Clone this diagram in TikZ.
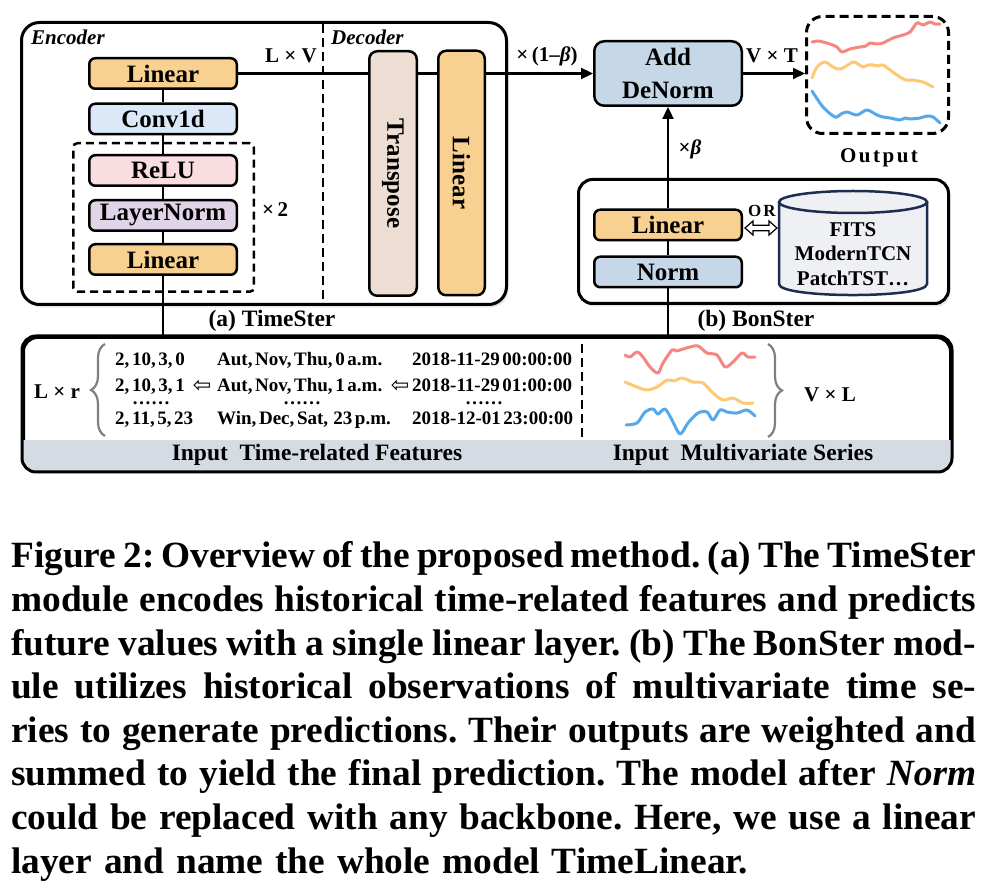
\documentclass[tikz,border=0pt]{standalone}
\usepackage{fontspec}
\setmainfont{Liberation Serif}
\newfontfamily\dvfont{DejaVu Sans}
\newfontfamily\spfont[LetterSpace=12]{Liberation Serif}
\newfontfamily\tabfont[WordSpace=0.55]{Liberation Serif}
\newfontfamily\capfont[FakeStretch=1.01]{Liberation Serif}
\frenchspacing
\usetikzlibrary{arrows.meta,decorations.pathreplacing,shadows}
\definecolor{cOrange}{HTML}{F8D08F}
\definecolor{cConv}{HTML}{DAE8F8}
\definecolor{cRelu}{HTML}{FADDE0}
\definecolor{cLN}{HTML}{E0D4E8}
\definecolor{cTrans}{HTML}{EEDDD3}
\definecolor{cAdd}{HTML}{C6D7E8}
\definecolor{cCylF}{HTML}{EEF0F4}
\definecolor{cCylD}{HTML}{1E2D4E}
\definecolor{cBand}{HTML}{D5DBE3}
\definecolor{cRed}{HTML}{F4877F}
\definecolor{cYel}{HTML}{FFC874}
\definecolor{cBlue}{HTML}{55A9EA}
\definecolor{cBrace}{HTML}{808080}
\begin{document}
\begin{tikzpicture}[x=1pt,y=-1pt,
  every node/.style={inner sep=0pt},
  blk/.style={draw, line width=2.5pt, rounded corners=6pt, minimum width=147.5pt, minimum height=30.5pt, font=\fontsize{25}{30}\selectfont\bfseries},
  bigframe/.style={draw, line width=3pt, fill=white, rounded corners=#1},
  softshadow/.style={drop shadow={shadow xshift=2pt,shadow yshift=-3pt,opacity=0.22,fill=black!45}},
  conn/.style={line width=2.3pt},
  arr/.style={conn, -{Triangle[length=12pt,width=11pt]}},
  lbl/.style={font=\fontsize{21}{24}\selectfont\bfseries},
  sublbl/.style={font=\fontsize{23.5}{26}\selectfont\bfseries},
  tab/.style={anchor=base west, font=\tabfont\fontsize{19}{20}\selectfont\bfseries},
  dots/.style={anchor=base, text height=3pt, text depth=0pt, font=\fontsize{19}{20}\selectfont\bfseries},
  series/.style={line width=3pt, line cap=round, line join=round},
  bracestyle/.style={cBrace, line width=2.2pt, decorate, decoration={brace, amplitude=14pt, aspect=0.5}},
  capl/.style={anchor=base west, font=\capfont\fontsize{37}{40}\selectfont\bfseries}]
\useasboundingbox (0,0) rectangle (989,890);

% ---------- frames ----------
\node[bigframe=18pt, softshadow, minimum width=485pt, minimum height=282pt] (ts) at (264,163.5) {};
\node[bigframe=14pt, softshadow, minimum width=370pt, minimum height=124pt] (bs) at (763.5,241.5) {};
\node[bigframe=14pt, softshadow, minimum width=927pt, minimum height=133pt] (inp) at (487,404) {};
\begin{scope}
  \clip[rounded corners=14pt] (inp.north west) rectangle (inp.south east);
  \fill[cBand] (15,440) rectangle (960,480);
\end{scope}
\draw[line width=3pt, rounded corners=14pt] (inp.north west) rectangle (inp.south east);

\node[draw, line width=3pt, dash pattern=on 9pt off 5pt, rounded corners=16pt, minimum width=142pt, minimum height=117pt] (out) at (877.5,75) {};

% encoder / decoder divider
\draw[line width=2.5pt, dash pattern=on 9pt off 5pt] (323,24) -- (323,305);

% labels in TimeSter
\node[anchor=base west, font=\fontsize{21}{24}\selectfont\bfseries\itshape] (enc) at (31,45) {Encoder};
\node[anchor=base west, font=\fontsize{21}{24}\selectfont\bfseries\itshape] (dec) at (331,45) {Decoder};
\node[lbl, anchor=base] (lv) at (291,63) {L × V};

% repeated block
\node[draw, line width=2.5pt, dash pattern=on 8pt off 5pt, rounded corners=4pt, minimum width=180.5pt, minimum height=148.5pt] (rep) at (163.5,217.5) {};
\node[lbl, anchor=base west] (x2) at (262,217) {×\,2};

% encoder blocks
\node[blk, fill=cOrange] (lin1) at (163,73.5) {Linear};
\node[blk, fill=cConv] (conv) at (163,119) {Conv1d};
\node[blk, fill=cRelu] (relu) at (163,170.5) {ReLU};
\node[blk, fill=cLN] (ln) at (163,215.5) {LayerNorm};
\node[blk, fill=cOrange] (lin2) at (163,259.5) {Linear};
\draw[conn] (lin1) -- (conv);
\draw[conn] (conv) -- (relu);
\draw[conn] (relu) -- (ln);
\draw[conn] (ln) -- (lin2);

% Add / DeNorm
\node[blk, fill=cAdd, minimum height=64.5pt, rounded corners=10pt, align=center, font=\fontsize{25}{33}\selectfont\bfseries] (add) at (668,73.5) {Add\\DeNorm};
\draw[arr] (lin1.east) -- (add.west);

% decoder blocks (on top of the connector)
\node[blk, fill=cTrans, rotate=-90, minimum width=244.5pt, minimum height=47.5pt, rounded corners=8pt] (tr) at (393,173.5) {Transpose};
\node[blk, fill=cOrange, rotate=-90, minimum width=244.5pt, minimum height=46.5pt, rounded corners=8pt] (dl) at (461.5,173) {Linear};

\node[lbl, anchor=base] (wb1) at (547,62) {×\,(1–{\itshape β})};
\node[lbl, anchor=base] (vt) at (772,63) {V × T};
\draw[arr] (add.east) -- (add.east -| out.west);

% output curves
\draw[series, cRed] plot[smooth, tension=0.5] coordinates {(812,42) (818,41) (823,42) (830,44) (837,47) (842,52) (850,49) (860,47) (866,46) (870,43) (877,44) (883,43) (893,38) (903,35) (910,32) (917,23) (923,25) (930,22) (935,24) (940,24)};
\draw[series, cYel] plot[smooth, tension=0.5] coordinates {(812,78) (817,67) (825,62) (833,67) (838,69) (843,68) (853,62) (858,64) (863,67) (868,65) (873,65) (878,66) (883,65) (890,70) (900,77) (906,80) (913,80) (918,81) (923,82) (933,87)};
\draw[series, cBlue] plot[smooth, tension=0.5] coordinates {(812,91) (823,107) (835,117) (841,114) (847,112) (857,115) (867,110) (877,115) (883,117) (890,118) (900,120) (905,118) (910,119) (920,118) (927,116) (933,117) (940,123)};
\node[anchor=base, font=\spfont\fontsize{21}{24}\selectfont\bfseries] (outl) at (879,163) {Output};

% BonSter
\node[blk, fill=cOrange] (bl) at (668,225) {Linear};
\node[blk, fill=cAdd] (norm) at (668,272) {Norm};
\draw[conn] (bl) -- (norm);
\draw[arr] (bl.north) -- (add.south);
\node[lbl, anchor=base] (wb2) at (690,155) {×{\itshape β}};

% cylinder
\fill[cCylF] (779,202) -- (779,284) .. controls (779,298.7) and (927,298.7) .. (927,284) -- (927,202) -- cycle;
\draw[cCylD, line width=2.5pt] (779,202) -- (779,284) .. controls (779,298.7) and (927,298.7) .. (927,284) -- (927,202);
\draw[cCylD, line width=2.5pt, fill=cCylF] (853,202) ellipse [x radius=74, y radius=11];
\node[align=center, font=\fontsize{21}{24.5}\selectfont\bfseries] (cyltxt) at (853,254) {FITS\\ModernTCN\\PatchTST…};
\coordinate (cylw) at (779,228);
\draw[line width=1.2pt, fill=white, line join=miter] ([xshift=2pt,yshift=-3pt]bl.east) -- ++(8,-7) -- ++(0,4.3) -- ++(16,0) -- ++(0,-4.3) -- ++(8,7) -- ++(-8,7) -- ++(0,-4.3) -- ++(-16,0) -- ++(0,4.3) -- cycle;
\node[anchor=base, font=\spfont\fontsize{17}{20}\selectfont\bfseries] (orl) at (762,217) {OR};

% sub labels
\node[sublbl] (tsl) at (272,321) {(a) TimeSter};
\node[sublbl] (bsl) at (756,321) {(b) BonSter};

% connectors to inputs
\draw[conn] (lin2.south) -- (lin2.south |- inp.north);
\draw[conn] (norm.south) -- (norm.south |- inp.north);

% ---------- input panel ----------
\draw[line width=2.5pt, dash pattern=on 9pt off 5pt] (582,344) -- (582,440);
\node[lbl] (lr) at (57,392) {L × r};
\draw[bracestyle] (105,436) -- (105,344);
\node[tab] (r1a) at (115,366) {2, 10, 3, 0};
\node[tab] (r2a) at (115,392) {2, 10, 3, 1};
\node[tab] (r3a) at (115,425) {2, 11, 5, 23};
\node[tab] (r1b) at (217,366) {Aut, Nov, Thu, 0 a.m.};
\node[tab] (r2b) at (217,392) {Aut, Nov, Thu, 1 a.m.};
\node[tab] (r3b) at (217,425) {Win, Dec, Sat,\ \ 23 p.m.};
\node[tab] (r1c) at (412,366) {2018-11-29 00:00:00};
\node[tab] (r2c) at (412,392) {2018-11-29 01:00:00};
\node[tab] (r3c) at (412,425) {2018-12-01 23:00:00};
\node[font=\dvfont\fontsize{22}{24}\selectfont] (ar1) at (202,386.5) {⇦};
\node[font=\dvfont\fontsize{22}{24}\selectfont] (ar2) at (400,386.5) {⇦};
\node[dots] (d1) at (151,405) {……};
\node[dots] (d2) at (302,405) {……};
\node[dots] (d3) at (484,405) {……};

\draw[series, cRed] plot[smooth, tension=0.5] coordinates {(625,355) (630,357) (637,352) (643,357) (650,367) (658,373) (663,363) (672,350) (676,351) (680,350) (690,347) (698,346) (707,353) (717,355) (725,367) (733,362) (742,353) (748,357) (755,357)};
\draw[series, cYel] plot[smooth, tension=0.5] coordinates {(625,382) (637,387) (647,390) (657,387) (667,380) (674,381) (682,378) (693,382) (703,383) (713,393) (723,400) (733,398) (743,403) (753,403)};
\draw[series, cBlue] plot[smooth, tension=0.5] coordinates {(626,425) (637,423) (645,412) (653,409) (658,414) (665,409) (672,420) (680,434) (688,423) (698,413) (707,412) (713,420) (720,410) (727,412) (737,413) (747,410) (755,416)};
\draw[bracestyle] (768,344) -- (768,437);
\node[lbl] (vl) at (830,395) {V × L};

\node[sublbl] (itf) at (317,455) {Input\ \ Time-related Features};
\node[sublbl] (ims) at (743,455) {Input\ \ Multivariate Series};

% ---------- caption ----------
\node[capl] (c1) at (11,568) {\makebox[965pt][s]{Figure 2: Overview of the proposed method. (a) The TimeSter}};
\node[capl] (c2) at (11,611.6) {\makebox[965pt][s]{module encodes historical time-related features and predicts}};
\node[capl] (c3) at (11,655.1) {\makebox[965pt][s]{future values with a single linear layer. (b) The BonSter mod-}};
\node[capl] (c4) at (11,698.7) {\makebox[965pt][s]{ule utilizes historical observations of multivariate time se-}};
\node[capl] (c5) at (11,742.3) {\makebox[965pt][s]{ries to generate predictions. Their outputs are weighted and}};
\node[capl] (c6) at (11,785.9) {\makebox[965pt][s]{summed to yield the final prediction. The model after {\itshape Norm}}};
\node[capl] (c7) at (11,829.4) {\makebox[965pt][s]{could be replaced with any backbone. Here, we use a linear}};
\node[capl] (c8) at (11,873) {\makebox[737pt][s]{layer and name the whole model TimeLinear.}};
\end{tikzpicture}
\end{document}
